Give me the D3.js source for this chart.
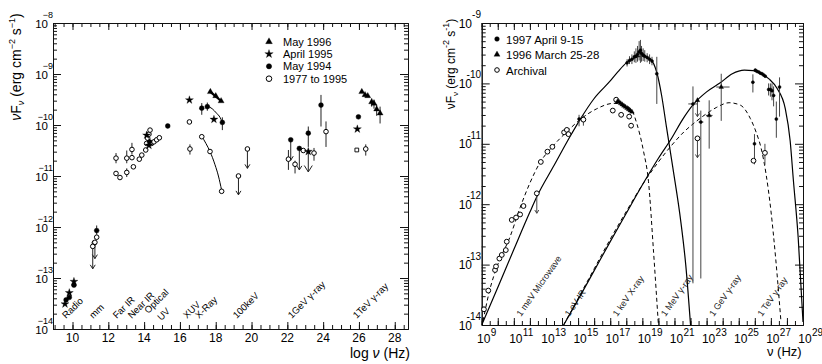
<!DOCTYPE html>
<html>
<head>
<meta charset="utf-8">
<script src="https://cdnjs.cloudflare.com/ajax/libs/d3/7.8.5/d3.min.js"></script>
<style>
body { margin: 0; background: #fff; }
svg { display: block; font-family: "Liberation Sans", Arial, sans-serif; }
</style>
</head>
<body>
<div id="chart"></div>
<script>
// ---- left panel: log nu (Hz) vs log nuFnu ----
var leftXTicks = [10, 12, 14, 16, 18, 20, 22, 24, 26, 28];
var leftYTicks = [-14, -13, -12, -11, -10, -9, -8];

// points are [logNu, logF, errTop, errBottom]
var may96 = [[17.7,-9.35],[18.0,-9.43],[18.3,-9.53],
  [26.16,-9.35],[26.34,-9.41],[26.49,-9.43],[26.71,-9.55,-9.48,-9.64],[26.84,-9.58,-9.5,-9.68],
  [26.99,-9.69,-9.6,-9.82],[27.18,-9.77,-9.64,-9.97]];
var may96Xray = [[17.7,-9.35],[18.3,-9.53]];
var apr95 = [[9.58,-13.51],[9.82,-13.29],[10.08,-13.07],[14.14,-10.2],[14.27,-10.4],
  [16.53,-9.51],[17.9,-9.89],[25.91,-10.08]];
var may94 = [[9.64,-13.43],[9.82,-13.38],[10.08,-13.14],[11.35,-12.07,-11.97,-12.15],[14.3,-10.33],
  [15.32,-10.02],[17.22,-9.67,-9.57,-9.8],[17.53,-9.64,-9.56,-9.72],[18.37,-9.95,-9.85,-10.1],
  [23.17,-10.16,-10.03,-10.43],[23.88,-9.61,-9.41,-10.03],[25.97,-9.84]];
var arch77 = [[11.35,-12.2],[11.22,-12.31],
  [12.43,-10.65,-10.55,-10.75],[12.43,-10.95],[12.65,-11.03],[13.03,-10.65,-10.5,-10.75],
  [13.03,-10.93,-10.85,-11.02],[13.32,-10.48,-10.35,-10.58],[13.32,-10.64],[13.4,-10.82],
  [13.73,-10.67],[13.87,-10.59],[14.09,-10.49],[14.14,-10.36],[14.2,-10.26],[14.27,-10.18],
  [14.33,-10.1],[14.42,-10.36],[14.55,-10.33],[14.7,-10.29],[14.85,-10.25],
  [16.53,-9.94],[16.56,-10.47,-10.38,-10.58],[17.22,-10.23],[17.68,-10.52],[18.33,-11.3],
  [22.06,-10.67,-10.49,-10.88],[22.43,-10.77,-10.7,-10.95],[22.89,-10.5],[23.49,-10.55,-10.45,-10.7],
  [24.16,-10.13,-9.93,-10.43],[26.38,-10.47,-10.38,-10.6]];
var square95 = [[25.88,-10.49]];
// upper limits [logNu, logF, arrowEnd]
var limits94 = [[22.19,-10.29,-10.69],[22.67,-10.46,-10.88]];
var limits95 = [[23.17,-10.52,-10.92]];
var limits77 = [[11.13,-12.38,-12.82],[11.25,-12.3,-12.62],[19.27,-11.0,-11.37],[19.77,-10.47,-10.85]];
var fitFilled = [[17.53,-9.63],[17.8,-9.68],[18.05,-9.77],[18.24,-9.85],[18.37,-9.95]];
var fitOpen = [[17.22,-10.22],[17.45,-10.36],[17.68,-10.52],[17.96,-10.78],[18.15,-11.0],[18.33,-11.28]];
var bandNames = ["Radio","mm","Far IR","Near IR","Optical","UV","XUV","X-Ray","100keV","1GeV \u03b3-ray","1TeV \u03b3-ray"];
var bandNu = [9.64, 11.16, 12.47, 13.31, 14.23, 14.95, 16.4, 17.07, 19.17, 22.25, 25.88];
var leftLegend = ["May 1996", "April 1995", "May 1994", "1977 to 1995"];

// ---- right panel: nu (Hz) vs nuFnu, both log ----
var rightXTicks = [9, 11, 13, 15, 17, 19, 21, 23, 25, 27, 29];
var rightYTicks = [-14, -13, -12, -11, -10, -9];
var syncSolid = [[9,-14.0],[10,-13.38],[11,-12.75],[12,-12.13],[12.46,-11.86],[13.5,-11.36],[14.5,-10.88],
  [15.12,-10.6],[16,-10.25],[17,-9.96],[17.5,-9.8],[18,-9.66],[18.5,-9.58],[19,-9.55],[19.5,-9.6],
  [19.9,-9.82],[20.2,-10.2],[20.5,-10.72],[20.9,-11.4],[21.4,-12.3],[21.7,-13.0],[22.0,-14.0]];
var syncDashed = [[9.0,-14.05],[9.5,-13.42],[10.0,-13.0],[10.75,-12.55],[11.4,-12.05],[12.0,-11.65],
  [12.63,-11.31],[13.36,-11.06],[14.3,-10.8],[15.12,-10.6],[16.16,-10.42],[17.2,-10.33],[17.8,-10.35],
  [18.35,-10.45],[18.66,-10.67],[19.07,-11.12],[19.38,-11.62],[19.7,-12.8],[20.0,-14.0]];
var icSolid = [[14.1,-14.0],[15,-13.58],[16,-13.1],[17,-12.62],[18,-12.15],[19.07,-11.65],[20,-11.24],
  [20.84,-10.9],[21.5,-10.6],[22.2,-10.34],[23,-10.14],[23.85,-9.99],[24.6,-9.84],[25.35,-9.78],
  [25.9,-9.79],[26.4,-9.84],[26.9,-9.93],[27.38,-10.08],[27.9,-10.42],[28.2,-10.95],[28.4,-11.6],
  [28.7,-12.55],[29.0,-13.95]];
var icDashed = [[14.1,-14.0],[15,-13.56],[16,-13.07],[17,-12.58],[18,-12.12],[19,-11.68],[20,-11.3],
  [20.84,-11.02],[21.6,-10.8],[22.3,-10.64],[23.0,-10.5],[23.6,-10.4],[24.4,-10.32],[25.1,-10.36],
  [25.72,-10.58],[26.1,-10.82],[26.4,-11.08],[26.7,-11.5],[27.0,-12.1],[27.3,-12.9],[27.63,-13.95]];
// [logNu, logF, errTop, errBottom, nuLo, nuHi]
var apr97 = [[15.06,-10.59,-10.52,-10.71],
  [18.05,-9.66,-9.6,-9.72],[18.2,-9.62,-9.55,-9.68],[18.35,-9.6,-9.52,-9.68],[18.5,-9.56,-9.47,-9.65],
  [18.6,-9.55,-9.42,-9.66],[18.7,-9.52,-9.38,-9.64],[18.8,-9.48,-9.3,-9.62],[18.88,-9.45,-9.28,-9.66],
  [18.95,-9.5,-9.38,-9.64],[19.05,-9.53,-9.42,-9.63],[19.15,-9.55,-9.45,-9.64],[19.3,-9.57,-9.5,-9.65],
  [19.45,-9.6,-9.52,-9.68],[19.6,-9.63,-9.56,-9.7],[19.9,-9.84,-9.56,-10.34],
  [22.15,-10.34,-10.05,-13.31,21.86,22.43],[22.64,-10.64,-10.45,-13.23,22.5,22.8],
  [25.88,-9.98,-9.85,-10.15],[26.03,-9.78],[26.13,-9.8],[26.24,-9.81],[26.35,-9.83],[26.45,-9.84],
  [26.55,-9.86],[26.65,-9.88],[26.86,-10.1,-10.0,-10.2],[26.97,-10.1,-10.0,-10.22],
  [27.07,-10.12,-10.0,-10.28],[27.17,-10.2,-10.05,-10.38],[27.34,-10.59,-10.3,-10.9],
  [27.54,-10.06,-9.9,-10.55],[25.98,-11.0,-10.84,-11.34]];
var mar96 = [[17.45,-10.3],[17.55,-10.31],[17.65,-10.33],[17.75,-10.35],[17.85,-10.37],[17.95,-10.39],
  [18.05,-10.41],[18.15,-10.43],[18.25,-10.45],[18.35,-10.47],
  [23.16,-10.53,-10.28,-11.08,22.96,23.37],[23.91,-10.06,-9.84,-10.62,23.6,24.43]];
var mar96Limits = [[22.43,-10.28,-10.55]];
var archival = [[9.14,-13.74],[9.41,-13.43],[9.83,-13.09],[9.89,-13.03],[10.1,-12.9],[10.25,-12.84],
  [10.5,-12.76],[10.56,-12.62],[10.87,-12.26],[11.14,-12.22],[11.39,-12.17],[11.6,-12.03],[12.68,-11.3],
  [13.09,-11.13],[13.4,-11.05],[14.13,-10.81],[14.3,-10.77],[14.4,-10.84],[15.33,-10.6,-10.53,-10.7],
  [17.16,-10.45],[17.37,-10.27],[17.68,-10.52],[18.18,-10.55],[18.3,-10.7],
  [25.92,-11.28],[26.63,-11.15,-11.0,-11.35]];
var archLimits = [[12.43,-11.82,-12.15],[22.43,-10.91,-11.23]];
var energyNames = ["1 meV Microwave", "1 eV IR", "1 keV X-ray", "1 MeV \u03b3-ray", "1 GeV \u03b3-ray", "1 TeV \u03b3-ray"];
var energyNu = [11.38, 14.38, 17.38, 20.38, 23.38, 26.38];
var rightLegend = ["1997 April 9-15", "1996 March 25-28", "Archival"];

var svg = d3.select("#chart").append("svg")
    .attr("width", 822)
    .attr("height", 364);
svg.append("rect").attr("width", 822).attr("height", 364).attr("fill", "#fff");

// scales
var xL = d3.scaleLinear().domain([8.91, 28.74]).range([53, 408]);
var yL = d3.scaleLinear().domain([-14, -8]).range([329, 23]);
var xR = d3.scaleLinear().domain([9, 29]).range([481.7, 803]);
var yR = d3.scaleLinear().domain([-14, -9]).range([325, 23]);

function halfSteps(a, b) { var r = []; for (var v = a; v <= b + 1e-9; v += 0.5) r.push(v); return r; }
function logMinor(a, b) {
  var r = [];
  for (var d = a; d < b; d++) for (var k = 2; k < 10; k++) r.push(d + Math.log10(k));
  return r;
}

function frame(x, y, xMajor, xMinor, yMajor, yMinor) {
  var g = svg.append("g").attr("stroke-width", 1);
  var x0 = x.range()[0], x1 = x.range()[1], y0 = y.range()[0], y1 = y.range()[1];
  var sets = [
    [d3.axisBottom(x), "translate(0," + y0 + ")", xMinor, -4],
    [d3.axisBottom(x), "translate(0," + y0 + ")", xMajor, -7],
    [d3.axisTop(x), "translate(0," + y1 + ")", xMinor, -4],
    [d3.axisTop(x), "translate(0," + y1 + ")", xMajor, -7],
    [d3.axisLeft(y), "translate(" + x0 + ",0)", yMinor, -4],
    [d3.axisLeft(y), "translate(" + x0 + ",0)", yMajor, -8],
    [d3.axisRight(y), "translate(" + x1 + ",0)", yMinor, -4],
    [d3.axisRight(y), "translate(" + x1 + ",0)", yMajor, -8]
  ];
  sets.forEach(function(s) {
    g.append("g").attr("transform", s[1])
      .call(s[0].tickValues(s[2]).tickSize(s[3]).tickSizeOuter(0).tickFormat(""))
      .call(function(a) { a.selectAll("path,line").attr("stroke", "#111"); });
  });
}

function errBars(g, x, y, pts, col) {
  g.selectAll(null).data(pts.filter(function(d) { return d.length > 2; })).join("line")
    .attr("x1", d => x(d[0])).attr("x2", d => x(d[0]))
    .attr("y1", d => y(d[2])).attr("y2", d => y(d[3]))
    .attr("stroke", col).attr("stroke-width", 1);
  g.selectAll(null).data(pts.filter(function(d) { return d.length > 4; })).join("line")
    .attr("x1", d => x(d[4])).attr("x2", d => x(d[5]))
    .attr("y1", d => y(d[1])).attr("y2", d => y(d[1]))
    .attr("stroke", col).attr("stroke-width", 1);
}

function upperLimits(g, x, y, pts, col, w) {
  g.selectAll(null).data(pts).join("path")
    .attr("d", function(d) {
      var px = x(d[0]), ya = y(d[1]), yb = y(d[2]);
      return "M" + px + "," + ya + "V" + yb + "M" + (px - w) + "," + (yb - w * 1.6) + "L" + px + "," + yb + "L" + (px + w) + "," + (yb - w * 1.6);
    })
    .attr("fill", "none").attr("stroke", col).attr("stroke-width", 1);
}

function symbols(g, x, y, pts, kind, s) {
  var sel = g.selectAll(null).data(pts);
  if (kind == "open" || kind == "dot") {
    sel.join("circle")
      .attr("cx", d => x(d[0])).attr("cy", d => y(d[1])).attr("r", s)
      .attr("fill", kind == "dot" ? "#000" : "#fff")
      .attr("stroke", "#000").attr("stroke-width", kind == "dot" ? 0.5 : 1);
  } else {
    var t = { star: d3.symbolStar, tri: d3.symbolTriangle, square: d3.symbolSquare }[kind];
    sel.join("path")
      .attr("transform", d => "translate(" + x(d[0]) + "," + y(d[1]) + ")")
      .attr("d", d3.symbol().type(t).size(s))
      .attr("fill", kind == "square" ? "#fff" : "#000")
      .attr("stroke", "#000").attr("stroke-width", kind == "square" ? 0.9 : 0.3);
  }
}

// ================= left panel =================
frame(xL, yL, leftXTicks, halfSteps(9, 28.5), leftYTicks, logMinor(-14, -8));

svg.append("g").selectAll("text").data(leftXTicks).join("text")
  .attr("x", d => xL(d)).attr("y", 342)
  .attr("text-anchor", "middle").attr("font-size", 12).text(d => d);

var lyt = svg.append("g").selectAll("g").data(leftYTicks).join("g");
lyt.append("text").attr("x", 48).attr("y", d => yL(d) + 5)
  .attr("text-anchor", "end").attr("font-size", 11.5).text("10");
lyt.append("text").attr("x", 53).attr("y", d => yL(d) - 5)
  .attr("text-anchor", "end").attr("font-size", 9).text(d => "\u2212" + Math.abs(d));

// axis titles
var lt = svg.append("text").attr("transform", "translate(21,67) rotate(-90)")
  .attr("text-anchor", "middle").attr("font-size", 14);
lt.append("tspan").attr("font-style", "italic").text("\u03bd");
lt.append("tspan").text("F");
lt.append("tspan").attr("font-size", 9).attr("dy", 3).attr("font-style", "italic").text("\u03bd");
lt.append("tspan").attr("dy", -3).text(" (erg cm");
lt.append("tspan").attr("font-size", 9).attr("dy", -6).text("\u22122");
lt.append("tspan").attr("dy", 6).text(" s");
lt.append("tspan").attr("font-size", 9).attr("dy", -6).text("\u22121");
lt.append("tspan").attr("dy", 6).text(")");

var lx = svg.append("text").attr("x", 350).attr("y", 358).attr("font-size", 14);
lx.append("tspan").text("log ");
lx.append("tspan").attr("font-style", "italic").text("\u03bd");
lx.append("tspan").text(" (Hz)");

// band labels, rotated
svg.append("g").selectAll("text").data(bandNames).join("text")
  .attr("transform", function(d, i) {
    var dy = d == "UV" ? 321 : (d == "Optical" ? 314 : 319);
    return "translate(" + xL(bandNu[i]) + "," + dy + ") rotate(-45)";
  })
  .attr("font-size", 9.5).text(d => d);

// fits
var lineL = d3.line().x(d => xL(d[0])).y(d => yL(d[1])).curve(d3.curveMonotoneX);
svg.append("path").attr("d", lineL(fitFilled)).attr("fill", "none").attr("stroke", "#000").attr("stroke-width", 1);
svg.append("path").attr("d", lineL(fitOpen)).attr("fill", "none").attr("stroke", "#000").attr("stroke-width", 1);
svg.append("path").attr("d", lineL(may96Xray)).attr("fill", "none").attr("stroke", "#000").attr("stroke-width", 2.2);

var gl = svg.append("g");
[may96, apr95, may94, arch77].forEach(function(p) { errBars(gl, xL, yL, p, "#222"); });
upperLimits(gl, xL, yL, limits77, "#222", 2.5);
upperLimits(gl, xL, yL, limits94, "#222", 2.5);
upperLimits(gl, xL, yL, limits95, "#222", 4);
symbols(gl, xL, yL, arch77, "open", 2.3);
symbols(gl, xL, yL, square95, "square", 14);
symbols(gl, xL, yL, may94, "dot", 2.4);
symbols(gl, xL, yL, apr95, "star", 20);
symbols(gl, xL, yL, limits95, "star", 20);
symbols(gl, xL, yL, limits94, "dot", 2.4);
symbols(gl, xL, yL, limits77, "open", 2.3);
symbols(gl, xL, yL, may96, "tri", 16);

// legend
var legL = svg.append("g").selectAll("g").data(leftLegend).join("g")
  .attr("transform", (d, i) => "translate(269," + [41.7, 54, 66.3, 78.7][i] + ")");
legL.each(function(d, i) {
  var g = d3.select(this);
  var kind = ["tri", "star", "dot", "open"][i];
  symbols(g, v => 0, v => 0, [[0, 0]], kind, kind == "tri" ? 20 : kind == "star" ? 22 : kind == "dot" ? 2.6 : 2.8);
  g.append("text").attr("x", 14).attr("y", 4).attr("font-size", 11).text(d);
});

// ================= right panel =================
frame(xR, yR, d3.range(9, 30), halfSteps(9, 29), rightYTicks, logMinor(-14, -9));

var rxt = svg.append("g").selectAll("g").data(rightXTicks).join("g");
rxt.append("text").attr("x", d => xR(d) + 2).attr("y", 343)
  .attr("text-anchor", "middle").attr("font-size", 12).text("10");
rxt.append("text").attr("x", d => xR(d) + 9).attr("y", 336)
  .attr("font-size", 10).text(d => d);

var ryt = svg.append("g").selectAll("g").data(rightYTicks).join("g");
ryt.append("text").attr("x", 472).attr("y", d => yR(d) + 4.5)
  .attr("text-anchor", "end").attr("font-size", 12).text("10");
ryt.append("text").attr("x", 481).attr("y", d => yR(d) - 5)
  .attr("text-anchor", "end").attr("font-size", 10).text(d => d);

var rt = svg.append("text").attr("transform", "translate(455,64) rotate(-90)")
  .attr("text-anchor", "middle").attr("font-size", 12);
rt.append("tspan").text("\u03bdF");
rt.append("tspan").attr("font-size", 8).attr("dy", 3).text("\u03bd");
rt.append("tspan").attr("dy", -3).text(" (erg cm");
rt.append("tspan").attr("font-size", 9).attr("dy", -6).text("-2");
rt.append("tspan").attr("dy", 6).text(" s");
rt.append("tspan").attr("font-size", 9).attr("dy", -6).text("-1");
rt.append("tspan").attr("dy", 6).text(")");

svg.append("text").attr("x", 767).attr("y", 356).attr("font-size", 13).text("\u03bd (Hz)");

svg.append("g").selectAll("text").data(energyNames).join("text")
  .attr("transform", (d, i) => "translate(" + (xR(energyNu[i]) + 1) + ",317) rotate(-55)")
  .attr("font-size", 9).attr("fill", "#222").text(d => d);

svg.append("clipPath").attr("id", "clipR").append("rect")
  .attr("x", 481.7).attr("y", 23).attr("width", 321.3).attr("height", 302);
var lineR = d3.line().x(d => xR(d[0])).y(d => yR(d[1])).curve(d3.curveMonotoneX);
var gc = svg.append("g").attr("clip-path", "url(#clipR)");
gc.append("path").attr("d", lineR(syncSolid)).attr("fill", "none").attr("stroke", "#000").attr("stroke-width", 1.2);
gc.append("path").attr("d", lineR(icSolid)).attr("fill", "none").attr("stroke", "#000").attr("stroke-width", 1.2);
gc.append("path").attr("d", lineR(syncDashed)).attr("fill", "none").attr("stroke", "#000").attr("stroke-width", 1).attr("stroke-dasharray", "4,3");
gc.append("path").attr("d", lineR(icDashed)).attr("fill", "none").attr("stroke", "#000").attr("stroke-width", 1).attr("stroke-dasharray", "4,3");

var gr = svg.append("g");
[apr97, mar96, archival].forEach(function(p) { errBars(gr, xR, yR, p, "#444"); });
upperLimits(gr, xR, yR, archLimits, "#444", 2);
upperLimits(gr, xR, yR, mar96Limits, "#444", 2);
symbols(gr, xR, yR, archival, "open", 2.4);
symbols(gr, xR, yR, archLimits, "open", 2.4);
symbols(gr, xR, yR, apr97, "dot", 1.5);
symbols(gr, xR, yR, mar96, "tri", 10);
symbols(gr, xR, yR, mar96Limits, "tri", 10);

var legR = svg.append("g").selectAll("g").data(rightLegend).join("g")
  .attr("transform", (d, i) => "translate(497," + [39, 54.5, 70][i] + ")");
legR.each(function(d, i) {
  var g = d3.select(this);
  var kind = ["dot", "tri", "open"][i];
  symbols(g, v => 0, v => 0, [[0, 0]], kind, kind == "tri" ? 16 : 2.3);
  g.append("text").attr("x", 9).attr("y", 4.5).attr("font-size", 11.5).text(d);
});
</script>
</body>
</html>
